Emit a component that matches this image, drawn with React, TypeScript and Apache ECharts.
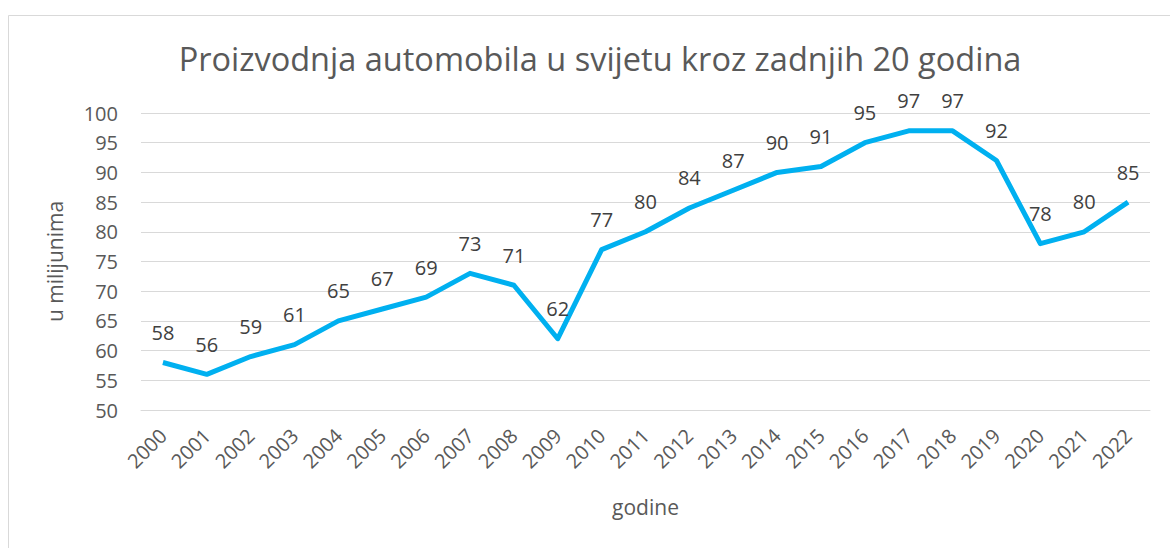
import React, { useEffect, useRef } from "react";
import * as echarts from "echarts";

const years = ["2000","2001","2002","2003","2004","2005","2006","2007","2008","2009","2010","2011","2012","2013","2014","2015","2016","2017","2018","2019","2020","2021","2022"];
const production = [58,56,59,61,65,67,69,73,71,62,77,80,84,87,90,91,95,97,97,92,78,80,85];
const yTicks = { min: 50, max: 100, interval: 5 };
const titleText = "Proizvodnja automobila u svijetu kroz zadnjih 20 godina";
const yName = "u milijunima";
const xName = "godine";

const FONT = "'Open Sans', sans-serif";

export default function App() {
  const ref = useRef<HTMLDivElement>(null);
  useEffect(() => {
    document.body.style.margin = "0";
    const chart = echarts.init(ref.current!, null, { renderer: "svg" });
    chart.setOption({
      animation: false,
      backgroundColor: "#ffffff",
      textStyle: { fontFamily: FONT },
      title: {
        text: titleText,
        left: 595,
        top: 37,
        textAlign: "center",
        textStyle: { fontFamily: FONT, fontSize: 32.5, fontWeight: "normal", color: "#595959" },
      },
      graphic: [
        {
          type: "rect",
          shape: { x: 8.5, y: 15.5, width: 1200, height: 600 },
          style: { fill: "none", stroke: "#d9d9d9", lineWidth: 1 },
          silent: true,
        },
      ],
      grid: { left: 141, right: 20, top: 113, bottom: 138 },
      xAxis: {
        type: "category",
        data: years,
        boundaryGap: true,
        name: xName,
        nameLocation: "middle",
        nameGap: 86,
        nameTextStyle: { fontFamily: FONT, fontSize: 21, color: "#595959" },
        axisLine: { show: true, lineStyle: { color: "#d9d9d9", width: 1 } },
        axisTick: { show: false },
        axisLabel: { rotate: 45, fontFamily: FONT, fontSize: 20, color: "#595959", margin: 22 },
      },
      yAxis: {
        type: "value",
        min: yTicks.min,
        max: yTicks.max,
        interval: yTicks.interval,
        name: yName,
        nameLocation: "middle",
        nameGap: 76,
        nameRotate: 90,
        nameTextStyle: { fontFamily: FONT, fontSize: 21, color: "#595959" },
        axisLine: { show: false },
        axisTick: { show: false },
        axisLabel: { fontFamily: FONT, fontSize: 20, color: "#595959", margin: 23 },
        splitLine: { lineStyle: { color: "#d9d9d9", width: 1 } },
      },
      series: [
        {
          type: "line",
          data: production,
          symbol: "circle",
          symbolSize: 0.1,
          showSymbol: true,
          lineStyle: { color: "#00b0f0", width: 5, join: "round" },
          itemStyle: { color: "#00b0f0" },
          label: {
            show: true,
            position: "top",
            distance: 20,
            fontFamily: FONT,
            fontSize: 20,
            color: "#404040",
          },
          labelLayout: { hideOverlap: false },
        },
      ],
    });
    return () => chart.dispose();
  }, []);
  return <div ref={ref} style={{ width: 1170, height: 548, position: "absolute", left: 0, top: 0 }} />;
}
